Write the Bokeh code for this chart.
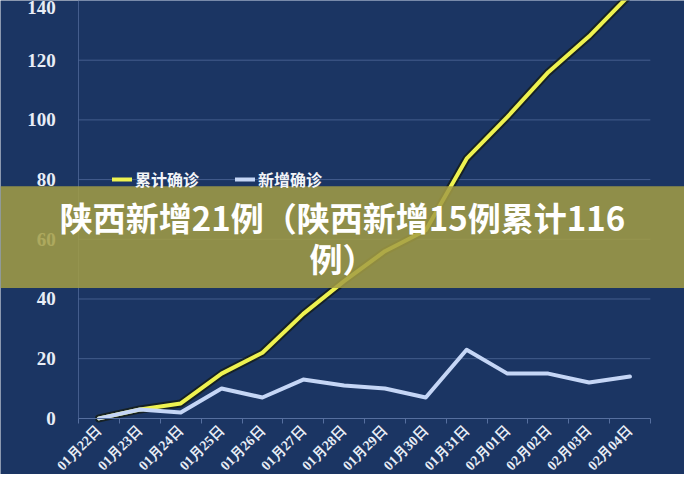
from bokeh.plotting import figure
from bokeh.models import (BoxAnnotation, Label, Legend, LegendItem, Range1d,
                          FixedTicker)
from bokeh.embed import file_html
from bokeh.resources import INLINE

dates = ["01月22日", "01月23日", "01月24日", "01月25日", "01月26日", "01月27日", "01月28日",
         "01月29日", "01月30日", "01月31日", "02月01日", "02月02日", "02月03日", "02月04日"]
cumulative = [0, 3, 5, 15, 22, 35, 46, 56, 63, 87, 101, 116, 128, 142]
new_cases = [0, 3, 2, 10, 7, 13, 11, 10, 7, 23, 15, 15, 12, 14]
y_ticks = [0, 20, 40, 60, 80, 100, 120, 140]
series_names = ["累计确诊", "新增确诊"]
title_lines = ["陕西新增21例（陕西新增15例累计116", "例）"]

BG = "#1b3563"
GRID = "#566f9f"
TXT = "#e8edf6"

n = len(dates)
x_pos = [i + 0.5 for i in range(n)]          # category centres
x_bounds = list(range(n + 1))                # category boundaries

p = figure(width=684, height=474,
           x_range=Range1d(-1.914, 14.836), y_range=Range1d(-18.8, 140),
           output_backend="svg", toolbar_location=None,
           min_border_left=0, min_border_right=0, min_border_top=0, min_border_bottom=0)
p.background_fill_color = BG
p.border_fill_color = BG
p.outline_line_color = None
p.xgrid.visible = False
p.ygrid.visible = False

# y axis, drawn at the left edge of the category area
p.yaxis.fixed_location = 0
p.yaxis.bounds = (y_ticks[0], y_ticks[-1])
p.yaxis.ticker = FixedTicker(ticks=y_ticks)
p.yaxis.major_tick_line_color = None
p.yaxis.minor_tick_line_color = None
p.yaxis.axis_line_color = GRID
p.yaxis.axis_line_alpha = 0.7
p.yaxis.major_label_standoff = 17
p.yaxis.major_label_text_font = "Liberation Serif"
p.yaxis.major_label_text_font_style = "bold"
p.yaxis.major_label_text_font_size = "19px"
p.yaxis.major_label_text_color = TXT

# x axis at value 0
p.xaxis.fixed_location = 0
p.xaxis.bounds = (0, n)
p.xaxis.ticker = FixedTicker(ticks=x_pos, minor_ticks=x_bounds)
p.xaxis.major_label_overrides = {x: d for x, d in zip(x_pos, dates)}
p.xaxis.axis_line_color = GRID
p.xaxis.major_tick_line_color = None
p.xaxis.minor_tick_line_color = GRID
p.xaxis.minor_tick_out = 5
p.xaxis.minor_tick_in = 0
p.xaxis.major_label_standoff = 4
p.xaxis.major_label_orientation = 0.785
p.xaxis.major_label_text_font = "Liberation Serif"
p.xaxis.major_label_text_font_style = "bold"
p.xaxis.major_label_text_font_size = "14px"
p.xaxis.major_label_text_color = TXT

# horizontal grid lines across the category area
grid_vals = y_ticks[1:]
p.segment(x0=[0] * len(grid_vals), x1=[n] * len(grid_vals), y0=grid_vals, y1=grid_vals,
          line_color=GRID, line_alpha=0.7, line_width=1)

# cumulative line with dark outline
p.line(x_pos, cumulative, line_color="#141a0c", line_width=8, line_alpha=0.7,
       line_join="round", line_cap="round")
r_cum = p.line(x_pos, cumulative, line_color="#eef250", line_width=4,
               line_join="round", line_cap="round")
r_new = p.line(x_pos, new_cases, line_color="#c5d6f6", line_width=4,
               line_join="round", line_cap="round")

legend = Legend(items=[LegendItem(label=series_names[0], renderers=[r_cum]),
                       LegendItem(label=series_names[1], renderers=[r_new])],
                location=(112, 283), orientation="horizontal",
                background_fill_alpha=0, border_line_alpha=0,
                padding=0, margin=0, spacing=36, glyph_width=20, glyph_height=20,
                label_standoff=3,
                label_text_font="Noto Sans CJK SC", label_text_font_style="bold",
                label_text_font_size="16px", label_text_color="#f2f4f8")
p.add_layout(legend, "center")

banner = BoxAnnotation(left=0, right=684, left_units="screen", right_units="screen",
                       top=77.8, bottom=43.7, fill_color="#a39d45", fill_alpha=0.86,
                       line_color=None, level="overlay")
p.add_layout(banner)

for txt, yv in zip(title_lines, [67.4, 53.8]):
    p.add_layout(Label(x=342, x_units="screen", y=yv, text=txt,
                       text_align="center", text_baseline="middle",
                       text_font="Noto Sans CJK SC", text_font_style="bold",
                       text_font_size="33px", text_color="#ffffff", level="overlay"))

open("out.html", "w").write(file_html(p, INLINE))
